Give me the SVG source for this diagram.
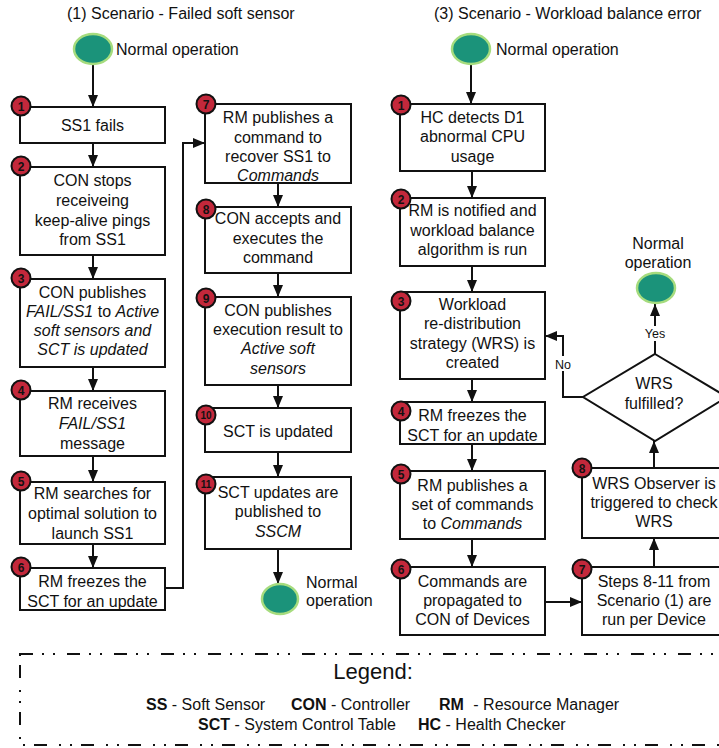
<svg xmlns="http://www.w3.org/2000/svg" width="719" height="748" viewBox="0 0 719 748">
<style>
text{font-family:"Liberation Sans",Arial,sans-serif;font-size:16px;fill:#111}
.c{text-anchor:middle}
.i{font-style:italic}
.b{font-weight:bold}
.box{fill:#fff;stroke:#111;stroke-width:2}
.ell{fill:#1b937a;stroke:#a6dc7e;stroke-width:2.5}
.bad{fill:#c3283b;stroke:#111;stroke-width:2}
.bt{font-size:12px;font-weight:bold;text-anchor:middle}
.bt2{font-size:10px;font-weight:bold;text-anchor:middle}
.ln{fill:none;stroke:#111;stroke-width:2}
.sm{font-size:12.5px;text-anchor:middle}
</style>
<defs>
<marker id="ah" viewBox="0 0 12 10" refX="12" refY="5" markerWidth="12" markerHeight="10" markerUnits="userSpaceOnUse" orient="auto">
<path d="M0,0 L12,5 L0,10 z" fill="#111"/>
</marker>
</defs>
<rect width="719" height="748" fill="#fff"/>

<text x="67" y="19">(1) Scenario - Failed soft sensor</text>
<text x="434" y="19">(3) Scenario - Workload balance error</text>

<g id="connectors">
<path class="ln" d="M93,64 L93,107" marker-end="url(#ah)"/>
<path class="ln" d="M93,143 L93,167" marker-end="url(#ah)"/>
<path class="ln" d="M93,255 L93,279" marker-end="url(#ah)"/>
<path class="ln" d="M93,367 L93,391" marker-end="url(#ah)"/>
<path class="ln" d="M93,456 L93,482" marker-end="url(#ah)"/>
<path class="ln" d="M93,544 L93,568" marker-end="url(#ah)"/>
<path class="ln" d="M165,588 L183,588 L183,143 L205,143" marker-end="url(#ah)"/>
<path class="ln" d="M278,183 L278,207" marker-end="url(#ah)"/>
<path class="ln" d="M278,273 L278,297" marker-end="url(#ah)"/>
<path class="ln" d="M278,385 L278,408" marker-end="url(#ah)"/>
<path class="ln" d="M278,452 L278,477" marker-end="url(#ah)"/>
<path class="ln" d="M278,549 L278,584" marker-end="url(#ah)"/>
<path class="ln" d="M471,64 L471,104" marker-end="url(#ah)"/>
<path class="ln" d="M472,171 L472,198" marker-end="url(#ah)"/>
<path class="ln" d="M472,266 L472,292" marker-end="url(#ah)"/>
<path class="ln" d="M472,379 L472,402" marker-end="url(#ah)"/>
<path class="ln" d="M472,444 L472,471" marker-end="url(#ah)"/>
<path class="ln" d="M472,539 L472,567" marker-end="url(#ah)"/>
<path class="ln" d="M545,602 L582,602" marker-end="url(#ah)"/>
<path class="ln" d="M654,567 L654,538" marker-end="url(#ah)"/>
<path class="ln" d="M654,468 L654,441" marker-end="url(#ah)"/>
<path class="ln" d="M655,354 L655,304" marker-end="url(#ah)"/>
<path class="ln" d="M583,397 L563,397 L563,336 L545,336" marker-end="url(#ah)"/>
<rect x="641" y="326" width="28" height="15" fill="#fff"/>
<text class="sm" x="655" y="338">Yes</text>
<rect x="553" y="356" width="20" height="15" fill="#fff"/>
<text class="sm" x="563" y="369">No</text>
</g>

<g id="s1-start">
<ellipse class="ell" cx="93" cy="49" rx="19" ry="15"/>
<text x="116" y="55">Normal operation</text>
</g>

<g id="s1-n1">
<rect class="box" x="20" y="107" width="145" height="36"/>
<text class="c" x="92.5" y="131">SS1 fails</text>
<circle class="bad" cx="21" cy="106" r="9.5"/><text class="bt" x="21" y="110.5">1</text>
</g>
<g id="s1-n2">
<rect class="box" x="20" y="167" width="145" height="88"/>
<text class="c" x="92.5" y="186">CON stops</text>
<text class="c" x="92.5" y="206">receiveing</text>
<text class="c" x="92.5" y="226">keep-alive pings</text>
<text class="c" x="92.5" y="245">from SS1</text>
<circle class="bad" cx="21" cy="166" r="9.5"/><text class="bt" x="21" y="170.5">2</text>
</g>
<g id="s1-n3">
<rect class="box" x="20" y="279" width="145" height="88"/>
<text class="c" x="92.5" y="298">CON publishes</text>
<text class="c" x="92.5" y="317"><tspan class="i">FAIL/SS1</tspan> to <tspan class="i">Active</tspan></text>
<text class="c i" x="92.5" y="336">soft sensors and</text>
<text class="c i" x="92.5" y="355">SCT is updated</text>
<circle class="bad" cx="21" cy="278" r="9.5"/><text class="bt" x="21" y="282.5">3</text>
</g>
<g id="s1-n4">
<rect class="box" x="20" y="391" width="145" height="65"/>
<text class="c" x="92.5" y="409">RM receives</text>
<text class="c i" x="92.5" y="429">FAIL/SS1</text>
<text class="c" x="92.5" y="449">message</text>
<circle class="bad" cx="21" cy="390" r="9.5"/><text class="bt" x="21" y="394.5">4</text>
</g>
<g id="s1-n5">
<rect class="box" x="20" y="482" width="145" height="62"/>
<text class="c" x="92.5" y="499">RM searches for</text>
<text class="c" x="92.5" y="519">optimal solution to</text>
<text class="c" x="92.5" y="539">launch SS1</text>
<circle class="bad" cx="21" cy="481" r="9.5"/><text class="bt" x="21" y="485.5">5</text>
</g>
<g id="s1-n6">
<rect class="box" x="20" y="568" width="145" height="42"/>
<text class="c" x="92.5" y="587">RM freezes the</text>
<text class="c" x="92.5" y="607">SCT for an update</text>
<circle class="bad" cx="21" cy="567" r="9.5"/><text class="bt" x="21" y="571.5">6</text>
</g>

<g id="s1-n7">
<rect class="box" x="205" y="104" width="146" height="79"/>
<text class="c" x="278" y="123">RM publishes a</text>
<text class="c" x="278" y="143">command to</text>
<text class="c" x="278" y="162">recover SS1 to</text>
<text class="c i" x="278" y="181">Commands</text>
<circle class="bad" cx="206" cy="104" r="9.5"/><text class="bt" x="206" y="108.5">7</text>
</g>
<g id="s1-n8">
<rect class="box" x="205" y="207" width="146" height="66"/>
<text class="c" x="278" y="224">CON accepts and</text>
<text class="c" x="278" y="244">executes the</text>
<text class="c" x="278" y="263">command</text>
<circle class="bad" cx="206" cy="209" r="9.5"/><text class="bt" x="206" y="213.5">8</text>
</g>
<g id="s1-n9">
<rect class="box" x="205" y="297" width="146" height="88"/>
<text class="c" x="278" y="316">CON publishes</text>
<text class="c" x="278" y="335">execution result to</text>
<text class="c i" x="278" y="354">Active soft</text>
<text class="c i" x="278" y="374">sensors</text>
<circle class="bad" cx="206" cy="298" r="9.5"/><text class="bt" x="206" y="302.5">9</text>
</g>
<g id="s1-n10">
<rect class="box" x="205" y="408" width="146" height="44"/>
<text class="c" x="278" y="437">SCT is updated</text>
<circle class="bad" cx="206" cy="415" r="9.5"/><text class="bt2" x="206" y="418.5">10</text>
</g>
<g id="s1-n11">
<rect class="box" x="205" y="477" width="146" height="72"/>
<text class="c" x="278" y="498">SCT updates are</text>
<text class="c" x="278" y="517">published to</text>
<text class="c i" x="278" y="537">SSCM</text>
<circle class="bad" cx="206" cy="484" r="9.5"/><text class="bt2" x="206" y="487.5">11</text>
</g>
<g id="s1-end">
<ellipse class="ell" cx="280" cy="599" rx="18" ry="15"/>
<text x="306" y="588">Normal</text>
<text x="306" y="606">operation</text>
</g>

<g id="s3-start">
<ellipse class="ell" cx="471" cy="49" rx="19" ry="15"/>
<text x="496" y="55">Normal operation</text>
</g>
<g id="s3-n1">
<rect class="box" x="400" y="104" width="145" height="67"/>
<text class="c" x="472.5" y="123">HC detects D1</text>
<text class="c" x="472.5" y="142">abnormal CPU</text>
<text class="c" x="472.5" y="162">usage</text>
<circle class="bad" cx="401" cy="105" r="9.5"/><text class="bt" x="401" y="109.5">1</text>
</g>
<g id="s3-n2">
<rect class="box" x="400" y="198" width="145" height="68"/>
<text class="c" x="472.5" y="216">RM is notified and</text>
<text class="c" x="472.5" y="236">workload balance</text>
<text class="c" x="472.5" y="255">algorithm is run</text>
<circle class="bad" cx="401" cy="199" r="9.5"/><text class="bt" x="401" y="203.5">2</text>
</g>
<g id="s3-n3">
<rect class="box" x="400" y="292" width="145" height="87"/>
<text class="c" x="472.5" y="310">Workload</text>
<text class="c" x="472.5" y="329">re-distribution</text>
<text class="c" x="472.5" y="349">strategy (WRS) is</text>
<text class="c" x="472.5" y="368">created</text>
<circle class="bad" cx="401" cy="301" r="9.5"/><text class="bt" x="401" y="305.5">3</text>
</g>
<g id="s3-n4">
<rect class="box" x="400" y="402" width="145" height="42"/>
<text class="c" x="472.5" y="421">RM freezes the</text>
<text class="c" x="472.5" y="441">SCT for an update</text>
<circle class="bad" cx="401" cy="411" r="9.5"/><text class="bt" x="401" y="415.5">4</text>
</g>
<g id="s3-n5">
<rect class="box" x="400" y="471" width="145" height="68"/>
<text class="c" x="472.5" y="491">RM publishes a</text>
<text class="c" x="472.5" y="510">set of commands</text>
<text class="c" x="472.5" y="529">to <tspan class="i">Commands</tspan></text>
<circle class="bad" cx="401" cy="474" r="9.5"/><text class="bt" x="401" y="478.5">5</text>
</g>
<g id="s3-n6">
<rect class="box" x="400" y="567" width="145" height="68"/>
<text class="c" x="472.5" y="587">Commands are</text>
<text class="c" x="472.5" y="606">propagated to</text>
<text class="c" x="472.5" y="625">CON of Devices</text>
<circle class="bad" cx="401" cy="569" r="9.5"/><text class="bt" x="401" y="573.5">6</text>
</g>
<g id="s3-n7">
<rect class="box" x="582" y="567" width="145" height="68"/>
<text class="c" x="654" y="587">Steps 8-11 from</text>
<text class="c" x="654" y="606">Scenario (1) are</text>
<text class="c" x="654" y="625">run per Device</text>
<circle class="bad" cx="582" cy="569" r="9.5"/><text class="bt" x="582" y="573.5">7</text>
</g>
<g id="s3-n8">
<rect class="box" x="582" y="468" width="145" height="70"/>
<text class="c" x="654" y="489">WRS Observer is</text>
<text class="c" x="654" y="508">triggered to check</text>
<text class="c" x="654" y="527">WRS</text>
<circle class="bad" cx="582" cy="468" r="9.5"/><text class="bt" x="582" y="472.5">8</text>
</g>
<g id="s3-decision">
<path class="box" d="M655,354 L727,397 L655,441 L583,397 z"/>
<text class="c" x="654" y="389">WRS</text>
<text class="c" x="654" y="409">fulfilled?</text>
</g>
<g id="s3-end">
<ellipse class="ell" cx="656" cy="288" rx="19" ry="15"/>
<text class="c" x="658" y="249">Normal</text>
<text class="c" x="658" y="268">operation</text>
</g>

<g id="legend">
<rect x="20" y="654" width="720" height="91" fill="none" stroke="#111" stroke-width="2" stroke-dasharray="13 9 2 9 2 12"/>
<text x="373" y="679" class="c" style="font-size:22px">Legend:</text>
<text x="146" y="710"><tspan class="b">SS</tspan> - Soft Sensor</text>
<text x="291" y="710"><tspan class="b">CON</tspan> - Controller</text>
<text x="439" y="710"><tspan class="b">RM</tspan><tspan dx="5"> - Resource Manager</tspan></text>
<text x="198" y="730"><tspan class="b">SCT</tspan> - System Control Table</text>
<text x="418" y="730"><tspan class="b">HC</tspan> - Health Checker</text>
</g>
</svg>
